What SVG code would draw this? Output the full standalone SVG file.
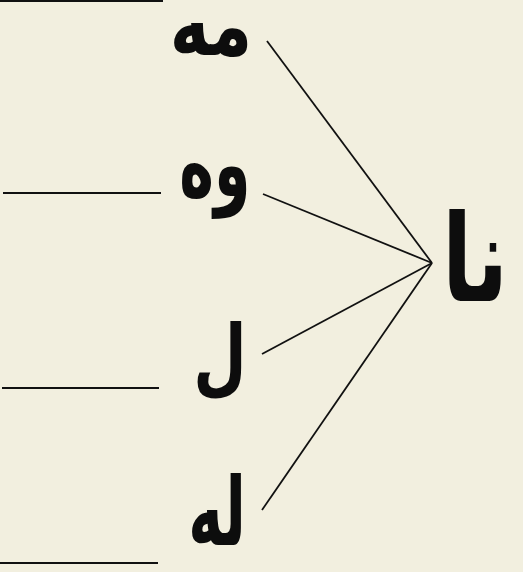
<svg xmlns="http://www.w3.org/2000/svg" width="523" height="572" viewBox="0 0 523 572">
<style>
.bg{fill:#f2efdf}
.rule{stroke:#111;stroke-width:2.2}
.conn{stroke:#111;stroke-width:1.8;fill:none}
.lbl{font-family:"DejaVu Sans","Noto Sans",sans-serif;font-weight:bold;fill:#0d0d0d;text-anchor:middle}
</style>
<rect class="bg" x="0" y="0" width="523" height="572"/>
<g id="rules">
<line class="rule" x1="0" y1="1" x2="163" y2="1"/>
<line class="rule" x1="3" y1="193" x2="161" y2="193"/>
<line class="rule" x1="2" y1="388" x2="159" y2="388"/>
<line class="rule" x1="0" y1="563" x2="158" y2="563"/>
</g>
<g id="connectors">
<line class="conn" x1="267" y1="41" x2="432" y2="263"/>
<line class="conn" x1="263" y1="194" x2="432" y2="263"/>
<line class="conn" x1="262" y1="354" x2="432" y2="263"/>
<line class="conn" x1="262" y1="510" x2="432" y2="263"/>
</g>
<g id="node-ma"><text class="lbl" font-size="56" transform="translate(211,55) scale(1.2,1.55)">مه</text></g>
<g id="node-vah"><text class="lbl" font-size="56" transform="translate(215,196) scale(1.05,1.65)">وه</text></g>
<g id="node-l"><text class="lbl" font-size="56" transform="translate(220,385) scale(1.1,1.5)">ل</text></g>
<g id="node-la"><text class="lbl" font-size="56" transform="translate(217,545) scale(1.05,1.7)">له</text></g>
<g id="node-na"><text class="lbl" font-size="110" transform="translate(475,301) scale(0.8,1.1)">نا</text></g>
</svg>
